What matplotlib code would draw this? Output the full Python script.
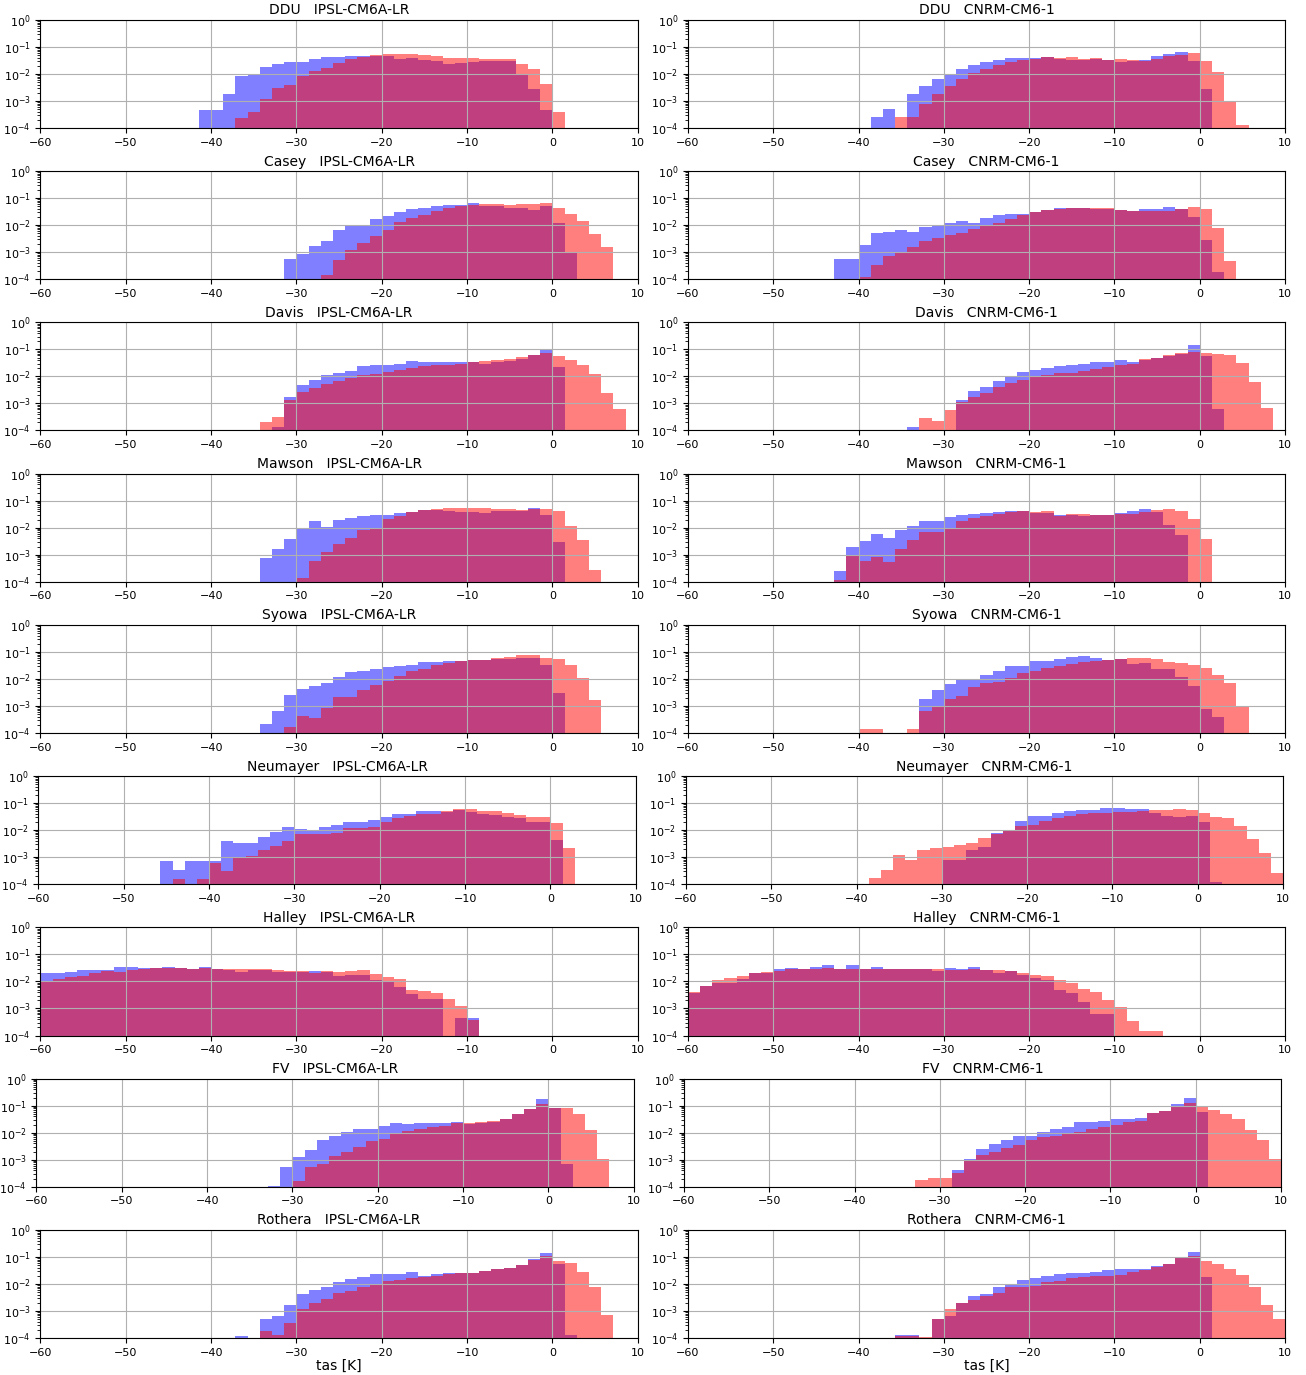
import numpy as np
import matplotlib
matplotlib.use("Agg")
import matplotlib.pyplot as plt

# common histogram bins (K)
bin_edges = np.linspace(-60, 10, 50)

stations = ["DDU", "Casey", "Davis", "Mawson", "Syowa", "Neumayer", "Halley", "FV", "Rothera"]
models = ["IPSL-CM6A-LR", "CNRM-CM6-1"]

# each series: (index of first bin, densities of consecutive bins)
DDU_IPSL_blue = (13, [4.6e-4, 4.6e-4, 1.8e-3, 8.4e-3, 9.8e-3, 1.8e-2, 2.3e-2, 2.8e-2, 2.8e-2, 3.5e-2, 4.1e-2, 4.1e-2, 4.6e-2, 4.6e-2, 4.5e-2, 4.5e-2, 3.5e-2, 4e-2, 3.2e-2, 2.9e-2, 2.4e-2, 2.5e-2, 2.7e-2, 2.9e-2, 2.9e-2, 2.9e-2, 1e-2, 2.7e-3, 4.6e-4])
DDU_IPSL_red = (16, [2.3e-4, 4e-4, 1.2e-3, 2.9e-3, 4e-3, 8.2e-3, 1.25e-2, 1.7e-2, 2.6e-2, 3.5e-2, 4.1e-2, 5e-2, 5.6e-2, 5.6e-2, 5.4e-2, 4.9e-2, 4.6e-2, 4e-2, 3.9e-2, 4e-2, 3.6e-2, 3.6e-2, 3.7e-2, 2.3e-2, 1.5e-2, 4.2e-3, 4e-4])
DDU_CNRM_blue = (15, [2.6e-4, 5.2e-4, 0, 1.8e-3, 3.7e-3, 6.5e-3, 9.8e-3, 1.5e-2, 2.1e-2, 2.7e-2, 3.4e-2, 3.9e-2, 3.9e-2, 4e-2, 4.1e-2, 3.5e-2, 3.4e-2, 3.3e-2, 3.5e-2, 3.2e-2, 2.7e-2, 3.1e-2, 3.3e-2, 4.5e-2, 5.5e-2, 6.3e-2, 2.9e-2, 2.7e-3])
DDU_CNRM_red = (17, [2.6e-4, 2.6e-4, 8e-4, 1.8e-3, 3.7e-3, 6.5e-3, 1.1e-2, 1.5e-2, 2.1e-2, 2.7e-2, 3.4e-2, 3.7e-2, 4.1e-2, 3.9e-2, 4.1e-2, 3.5e-2, 3.9e-2, 3.2e-2, 3.5e-2, 3.4e-2, 3e-2, 3.5e-2, 4.5e-2, 5e-2, 6e-2, 3e-2, 1.2e-2, 1e-3, 1.3e-4])

Casey_IPSL_blue = (20, [5.8e-4, 8.9e-4, 1.7e-3, 2.6e-3, 6.7e-3, 9.5e-3, 9.5e-3, 1.7e-2, 2.2e-2, 3.2e-2, 4e-2, 4.3e-2, 5e-2, 5.6e-2, 5.6e-2, 6.7e-2, 5.3e-2, 5e-2, 4.5e-2, 4.5e-2, 3.7e-2, 5e-2, 1.2e-2, 9.5e-4])
Casey_IPSL_red = (23, [1.4e-4, 5.3e-4, 1.2e-3, 2.2e-3, 4e-3, 6.7e-3, 1.3e-2, 1.9e-2, 2.4e-2, 3.3e-2, 4.3e-2, 5.1e-2, 5.5e-2, 6.1e-2, 6.1e-2, 5.6e-2, 6e-2, 6.3e-2, 6.7e-2, 4.2e-2, 2.6e-2, 1.4e-2, 4.9e-3, 1.6e-3])
Casey_CNRM_blue = (12, [5.8e-4, 5.8e-4, 1.8e-3, 5.1e-3, 5.8e-3, 6.7e-3, 5.8e-3, 8.9e-3, 9.8e-3, 1.2e-2, 1.4e-2, 1.25e-2, 1.8e-2, 2.4e-2, 2.6e-2, 2.6e-2, 3e-2, 3.7e-2, 4.2e-2, 4.2e-2, 4.2e-2, 4.1e-2, 4e-2, 3.7e-2, 3.4e-2, 4e-2, 4e-2, 4.6e-2, 4e-2, 2e-2, 2.9e-3, 1.8e-4])
Casey_CNRM_red = (14, [1.2e-4, 3.4e-4, 7.3e-4, 9.5e-4, 1.6e-3, 2.6e-3, 3.4e-3, 4.2e-3, 5.3e-3, 7e-3, 9.5e-3, 1.25e-2, 1.7e-2, 2.3e-2, 3e-2, 3.7e-2, 4e-2, 4.3e-2, 4.5e-2, 4.2e-2, 4.5e-2, 3.7e-2, 3.3e-2, 3.5e-2, 3.3e-2, 3.5e-2, 4e-2, 4.8e-2, 4e-2, 8e-3, 4.6e-4])

Davis_IPSL_blue = (19, [1.4e-4, 1.7e-3, 4.9e-3, 7.7e-3, 1.1e-2, 1.4e-2, 1.6e-2, 2.4e-2, 2.7e-2, 2.7e-2, 3e-2, 3.7e-2, 3.5e-2, 3.5e-2, 3.3e-2, 3.3e-2, 3.5e-2, 3e-2, 3.3e-2, 3.6e-2, 4.6e-2, 6.5e-2, 1e-1, 2.3e-2])
Davis_IPSL_red = (18, [2e-4, 3.1e-4, 1.3e-3, 2.7e-3, 3.7e-3, 5.2e-3, 6.9e-3, 8.7e-3, 1.1e-2, 1.25e-2, 1.5e-2, 1.8e-2, 2.1e-2, 2.4e-2, 2.6e-2, 2.7e-2, 3e-2, 3.3e-2, 3.8e-2, 4.1e-2, 4.6e-2, 5.2e-2, 6.5e-2, 7.5e-2, 5.5e-2, 4.2e-2, 2.7e-2, 1.2e-2, 2.4e-3, 6.5e-4])
Davis_CNRM_blue = (18, [1.3e-4, 0, 0, 0, 1.4e-3, 3e-3, 4e-3, 7e-3, 1e-2, 1.5e-2, 1.8e-2, 2.1e-2, 2.4e-2, 2.6e-2, 2.9e-2, 3.4e-2, 3.4e-2, 4e-2, 3.5e-2, 4e-2, 4.8e-2, 5.6e-2, 7e-2, 1.45e-1, 5.8e-2, 6.5e-4])
Davis_CNRM_red = (19, [2.8e-4, 2.2e-4, 5.6e-4, 1.1e-3, 1.8e-3, 2.5e-3, 4.2e-3, 5.5e-3, 7.7e-3, 1e-2, 1.1e-2, 1.3e-2, 1.3e-2, 1.6e-2, 1.9e-2, 2.3e-2, 2.6e-2, 2.8e-2, 4.6e-2, 5e-2, 6e-2, 7.7e-2, 8.4e-2, 7.3e-2, 6.7e-2, 6e-2, 3.2e-2, 6.3e-3, 7e-4])

Mawson_IPSL_blue = (18, [7.8e-4, 1.7e-3, 3.9e-3, 9.8e-3, 1.7e-2, 1.1e-2, 2e-2, 2.3e-2, 2.8e-2, 2.9e-2, 2.9e-2, 3.5e-2, 3.7e-2, 4.5e-2, 4.5e-2, 4.1e-2, 3.9e-2, 3.7e-2, 3.4e-2, 4.1e-2, 4.1e-2, 4.1e-2, 5.2e-2, 2.9e-2, 2.9e-3])
Mawson_IPSL_red = (21, [1.4e-4, 5.8e-4, 1.3e-3, 2.5e-3, 4.3e-3, 7.9e-3, 9.2e-3, 2.1e-2, 2.7e-2, 3.7e-2, 4.5e-2, 4.9e-2, 5.2e-2, 5.6e-2, 5.5e-2, 5.2e-2, 4.9e-2, 4.9e-2, 4.5e-2, 4.8e-2, 4.8e-2, 4.1e-2, 1.2e-2, 3.4e-3, 2.7e-4])
Mawson_CNRM_blue = (12, [2.5e-4, 2e-3, 3.1e-3, 5.8e-3, 4.2e-3, 8.4e-3, 1.2e-2, 1.7e-2, 1.8e-2, 2.4e-2, 2.9e-2, 3.2e-2, 3.4e-2, 3.7e-2, 4.3e-2, 4.1e-2, 3.6e-2, 3.6e-2, 3e-2, 2.9e-2, 2.7e-2, 2.9e-2, 3e-2, 3.6e-2, 4.1e-2, 4.9e-2, 3.7e-2, 1.3e-2, 5.2e-3])
Mawson_CNRM_red = (12, [1.2e-4, 1e-3, 5.8e-4, 8.4e-4, 5.6e-4, 1.7e-3, 3.4e-3, 6.7e-3, 6.7e-3, 1e-2, 1.7e-2, 2.3e-2, 2.8e-2, 3.3e-2, 3.9e-2, 4.1e-2, 3.9e-2, 4.1e-2, 2.7e-2, 3.3e-2, 3.2e-2, 2.9e-2, 2.9e-2, 3.1e-2, 3.3e-2, 3.7e-2, 4.6e-2, 4.9e-2, 4e-2, 2.1e-2, 3.9e-3])

Syowa_IPSL_blue = (18, [2.2e-4, 6.6e-4, 2.5e-3, 4.3e-3, 5.4e-3, 7.3e-3, 1.2e-2, 1.8e-2, 1.9e-2, 2.4e-2, 2.7e-2, 3.1e-2, 3.3e-2, 4.1e-2, 4.1e-2, 4.5e-2, 4.7e-2, 5.2e-2, 5.2e-2, 5.3e-2, 5.6e-2, 6.1e-2, 6e-2, 3.2e-2, 2.9e-3])
Syowa_IPSL_red = (20, [1.6e-4, 4.4e-4, 3.6e-4, 8.7e-4, 2.2e-3, 2.2e-3, 4e-3, 6.1e-3, 8.7e-3, 1.25e-2, 1.9e-2, 2.4e-2, 3.2e-2, 3.9e-2, 4.6e-2, 5e-2, 5e-2, 5.8e-2, 6.5e-2, 7.5e-2, 7.7e-2, 5.8e-2, 5.5e-2, 3.2e-2, 1.1e-2, 1.6e-3])
Syowa_CNRM_blue = (19, [1.8e-3, 3.9e-3, 6.5e-3, 9.5e-3, 9.5e-3, 1.45e-2, 1.9e-2, 2.9e-2, 2.9e-2, 4.6e-2, 4.6e-2, 5.5e-2, 6.5e-2, 7.1e-2, 5.8e-2, 5.2e-2, 5.6e-2, 3.7e-2, 3.8e-2, 2.4e-2, 2.3e-2, 1.2e-2, 5.5e-3, 7.5e-4, 3.9e-4])
Syowa_CNRM_red = (14, [1.4e-4, 1.4e-4, 0, 0, 1.4e-4, 6.8e-4, 9.6e-4, 1.8e-3, 2.3e-3, 4.9e-3, 6.9e-3, 8e-3, 1.1e-2, 1.6e-2, 2e-2, 2.6e-2, 2.9e-2, 3.7e-2, 4.3e-2, 4.6e-2, 5.2e-2, 5.5e-2, 6e-2, 6e-2, 5.5e-2, 4.2e-2, 3.8e-2, 3.3e-2, 2.6e-2, 1.4e-2, 6.9e-3, 1e-3])

Neumayer_IPSL_blue = (10, [7.2e-4, 3.5e-4, 7.2e-4, 7.2e-4, 7.2e-4, 4e-3, 3.3e-3, 3.3e-3, 5.8e-3, 8.4e-3, 1.3e-2, 1.1e-2, 1e-2, 1.3e-2, 1.5e-2, 2e-2, 2e-2, 2.4e-2, 3e-2, 4.1e-2, 4.1e-2, 5.2e-2, 5.2e-2, 4.8e-2, 5.7e-2, 4.8e-2, 4.1e-2, 3.7e-2, 3e-2, 2.8e-2, 2e-2, 2e-2, 4.3e-3])
Neumayer_IPSL_red = (11, [1.5e-4, 0, 1.5e-4, 6e-4, 3.2e-4, 9e-4, 1.1e-3, 1.9e-3, 2.7e-3, 4e-3, 7.2e-3, 7.2e-3, 7.2e-3, 8e-3, 1.2e-2, 1.2e-2, 1.35e-2, 2.1e-2, 2.8e-2, 3.4e-2, 4.1e-2, 4.1e-2, 5.2e-2, 6e-2, 6e-2, 5.2e-2, 5.2e-2, 4.5e-2, 3.6e-2, 3.2e-2, 3.2e-2, 1.8e-2, 2.2e-3])
Neumayer_CNRM_blue = (21, [7.7e-4, 7.7e-4, 1.9e-3, 2.3e-3, 8e-3, 1e-2, 2.2e-2, 3.5e-2, 3.5e-2, 4.2e-2, 5.2e-2, 5.6e-2, 5.6e-2, 6.9e-2, 6.5e-2, 6.3e-2, 6.3e-2, 4.5e-2, 3.4e-2, 3.2e-2, 3.4e-2, 2e-2, 1.2e-4])
Neumayer_CNRM_red = (15, [1.7e-4, 3.3e-4, 1.2e-3, 7.7e-4, 1.9e-3, 2.2e-3, 2.4e-3, 2.8e-3, 3.4e-3, 5.2e-3, 7e-3, 1.05e-2, 1.4e-2, 1.6e-2, 2.2e-2, 2.9e-2, 3.5e-2, 3.9e-2, 4.5e-2, 4.5e-2, 4.7e-2, 4.9e-2, 5.2e-2, 5.5e-2, 5.6e-2, 6.3e-2, 5.6e-2, 4.5e-2, 3.1e-2, 2.8e-2, 1.4e-2, 4.8e-3, 1.4e-3, 2.6e-4])

Halley_IPSL_blue = (0, [2e-2, 2e-2, 2.2e-2, 2.6e-2, 2.6e-2, 2.7e-2, 3.5e-2, 3.4e-2, 3.2e-2, 3.1e-2, 3.5e-2, 3.2e-2, 2.8e-2, 3.5e-2, 2.8e-2, 2.7e-2, 2.3e-2, 2.6e-2, 2.6e-2, 2.2e-2, 2.3e-2, 2.3e-2, 2.4e-2, 2.3e-2, 1.6e-2, 1.7e-2, 1.7e-2, 1.1e-2, 9.8e-3, 6.3e-3, 3.5e-3, 2.3e-3, 2.3e-3, 0, 4.6e-4, 4.6e-4])
Halley_IPSL_red = (0, [1e-2, 1.25e-2, 1.5e-2, 1.6e-2, 2.1e-2, 2.4e-2, 2.2e-2, 2.7e-2, 2.8e-2, 3.1e-2, 3.2e-2, 3.2e-2, 2.9e-2, 3.2e-2, 3e-2, 2.8e-2, 3e-2, 2.8e-2, 2.8e-2, 2.6e-2, 2.4e-2, 2.4e-2, 2.1e-2, 2.4e-2, 2.2e-2, 2.4e-2, 2.7e-2, 1.9e-2, 1.5e-2, 1.25e-2, 5e-3, 4.5e-3, 3.7e-3, 2.2e-3, 1.2e-3, 3.9e-4])
Halley_CNRM_blue = (0, [3.6e-3, 7e-3, 9e-3, 8.5e-3, 1.25e-2, 2e-2, 2.1e-2, 2.8e-2, 3.1e-2, 2.8e-2, 3.4e-2, 4e-2, 2.9e-2, 4e-2, 2.8e-2, 3.5e-2, 2.9e-2, 2.8e-2, 2.9e-2, 2.9e-2, 2.5e-2, 3.1e-2, 2.9e-2, 3.4e-2, 2.7e-2, 2e-2, 2.4e-2, 1.8e-2, 1.3e-2, 1.1e-2, 5e-3, 3.6e-3, 1.8e-3, 6e-4, 6e-4])
Halley_CNRM_red = (0, [4.2e-3, 7e-3, 1.1e-2, 1.3e-2, 1.65e-2, 2e-2, 2.2e-2, 2.5e-2, 2.9e-2, 2.8e-2, 2.9e-2, 3.1e-2, 2.9e-2, 2.9e-2, 2.9e-2, 2.9e-2, 2.9e-2, 2.8e-2, 2.9e-2, 2.9e-2, 2.8e-2, 2.7e-2, 2.6e-2, 2.8e-2, 2.7e-2, 2.7e-2, 2.4e-2, 2e-2, 1.8e-2, 1.6e-2, 1.1e-2, 8.5e-3, 5.3e-3, 4e-3, 2.1e-3, 1.1e-3, 3.5e-4, 1.5e-4, 1.5e-4])

FV_IPSL_blue = (19, [1.1e-4, 5.6e-4, 1.3e-3, 2.3e-3, 5.6e-3, 7.8e-3, 1.1e-2, 1.4e-2, 1.4e-2, 1.8e-2, 2.2e-2, 2.1e-2, 2.2e-2, 2.2e-2, 2.2e-2, 2.4e-2, 2.1e-2, 2.3e-2, 2.6e-2, 3.1e-2, 4.8e-2, 7.4e-2, 1.8e-1, 8.2e-2, 6.8e-4])
FV_IPSL_red = (21, [1.7e-4, 5.2e-4, 7e-4, 1.4e-3, 2e-3, 2.9e-3, 4.8e-3, 6.1e-3, 1e-2, 1.2e-2, 1.4e-2, 1.6e-2, 1.8e-2, 2.2e-2, 2.2e-2, 2.4e-2, 2.7e-2, 3.2e-2, 4.9e-2, 7.5e-2, 1.15e-1, 8.2e-2, 8.2e-2, 4.8e-2, 1.3e-2, 1.1e-3])
FV_CNRM_blue = (22, [4.3e-4, 1.1e-3, 2.4e-3, 3.7e-3, 5.2e-3, 7.5e-3, 7.7e-3, 1.1e-2, 1.4e-2, 1.7e-2, 2.6e-2, 2.6e-2, 2.7e-2, 3.1e-2, 3.3e-2, 3.6e-2, 5.5e-2, 6.5e-2, 1.15e-1, 1.9e-1, 6.1e-2])
FV_CNRM_red = (19, [1.8e-4, 2.2e-4, 2.2e-4, 3.3e-4, 8.7e-4, 1.5e-3, 2e-3, 2.7e-3, 3.4e-3, 5.2e-3, 6.9e-3, 7.7e-3, 9.4e-3, 1.1e-2, 1.4e-2, 1.7e-2, 2e-2, 2.5e-2, 2.8e-2, 5.2e-2, 6.2e-2, 9.8e-2, 1.3e-1, 1e-1, 6.9e-2, 4.9e-2, 3.2e-2, 1.3e-2, 5.2e-3, 1.1e-3])

Rothera_IPSL_blue = (16, [1.2e-4, 0, 5e-4, 6.4e-4, 1.6e-3, 4.4e-3, 6e-3, 7.5e-3, 1.2e-2, 1.5e-2, 1.8e-2, 2.3e-2, 2.3e-2, 2.4e-2, 2.8e-2, 2e-2, 2.4e-2, 2.6e-2, 2.6e-2, 2.6e-2, 3e-2, 3.5e-2, 4e-2, 5e-2, 8.2e-2, 1.45e-1, 5.3e-2, 1.3e-4])
Rothera_IPSL_red = (18, [1.8e-4, 1.3e-4, 3.5e-4, 1.2e-3, 1.9e-3, 2.9e-3, 4.7e-3, 5.7e-3, 7.7e-3, 1e-2, 1.3e-2, 1.4e-2, 1.6e-2, 1.8e-2, 2e-2, 2.3e-2, 2.6e-2, 2.6e-2, 3.1e-2, 3.6e-2, 4e-2, 5e-2, 7.5e-2, 1.1e-1, 7.1e-2, 5.8e-2, 2.9e-2, 7.7e-3, 7.4e-4])
Rothera_CNRM_blue = (17, [1.3e-4, 1.3e-4, 0, 5e-4, 6.3e-4, 1.9e-3, 3.5e-3, 4.3e-3, 7.6e-3, 1e-2, 1.4e-2, 1.6e-2, 1.9e-2, 2.3e-2, 2.6e-2, 2.6e-2, 2.8e-2, 3.2e-2, 3.7e-2, 3.7e-2, 3.6e-2, 4.7e-2, 5.5e-2, 9.2e-2, 1.55e-1, 1.8e-2])
Rothera_CNRM_red = (17, [1.2e-4, 1.2e-4, 1.1e-4, 5e-4, 1.2e-3, 1.9e-3, 2.6e-3, 3.5e-3, 4.6e-3, 7.6e-3, 7.6e-3, 8.5e-3, 1.2e-2, 1.3e-2, 1.6e-2, 1.8e-2, 1.9e-2, 2e-2, 2.2e-2, 2.8e-2, 3.2e-2, 4.3e-2, 5.7e-2, 9.2e-2, 1.07e-1, 7.2e-2, 5.5e-2, 3.6e-2, 2.2e-2, 7.6e-3, 1.7e-3, 5e-4])

series = {
    ("DDU", 0): (DDU_IPSL_blue, DDU_IPSL_red), ("DDU", 1): (DDU_CNRM_blue, DDU_CNRM_red),
    ("Casey", 0): (Casey_IPSL_blue, Casey_IPSL_red), ("Casey", 1): (Casey_CNRM_blue, Casey_CNRM_red),
    ("Davis", 0): (Davis_IPSL_blue, Davis_IPSL_red), ("Davis", 1): (Davis_CNRM_blue, Davis_CNRM_red),
    ("Mawson", 0): (Mawson_IPSL_blue, Mawson_IPSL_red), ("Mawson", 1): (Mawson_CNRM_blue, Mawson_CNRM_red),
    ("Syowa", 0): (Syowa_IPSL_blue, Syowa_IPSL_red), ("Syowa", 1): (Syowa_CNRM_blue, Syowa_CNRM_red),
    ("Neumayer", 0): (Neumayer_IPSL_blue, Neumayer_IPSL_red), ("Neumayer", 1): (Neumayer_CNRM_blue, Neumayer_CNRM_red),
    ("Halley", 0): (Halley_IPSL_blue, Halley_IPSL_red), ("Halley", 1): (Halley_CNRM_blue, Halley_CNRM_red),
    ("FV", 0): (FV_IPSL_blue, FV_IPSL_red), ("FV", 1): (FV_CNRM_blue, FV_CNRM_red),
    ("Rothera", 0): (Rothera_IPSL_blue, Rothera_IPSL_red), ("Rothera", 1): (Rothera_CNRM_blue, Rothera_CNRM_red),
}

nbins = len(bin_edges) - 1
centers = 0.5 * (bin_edges[:-1] + bin_edges[1:])


def expand(s):
    start, vals = s
    full = np.zeros(nbins)
    full[start:start + len(vals)] = vals
    return full


W, H = 1306, 1375
fig, axes = plt.subplots(len(stations), 2, figsize=(W / 100, H / 100), dpi=100)
fig.subplots_adjust(left=0.031, right=0.984, top=0.9855, bottom=0.0269, wspace=0.084, hspace=0.40)

# small horizontal offsets of some rows in the reference layout (pixels)
row_shift = {"Neumayer": -2, "FV": -4}

for i, st in enumerate(stations):
    for j, mod in enumerate(models):
        ax = axes[i, j]
        if st in row_shift:
            p = ax.get_position()
            ax.set_position([p.x0 + row_shift[st] / W, p.y0, p.width, p.height])
        blue, red = series[(st, j)]
        ax.hist(centers, bins=bin_edges, weights=expand(blue), color="blue", alpha=0.5, log=True)
        ax.hist(centers, bins=bin_edges, weights=expand(red), color="red", alpha=0.5, log=True)
        ax.set_xlim(-60, 10)
        ax.set_ylim(1e-4, 1)
        ax.grid(True)
        ax.set_title(f"{st}   {mod}", fontsize=10, pad=4)
        ax.tick_params(labelsize=8)
        if i == len(stations) - 1:
            ax.set_xlabel("tas [K]", fontsize=10, labelpad=1)

fig.savefig("out.png", dpi=100)
